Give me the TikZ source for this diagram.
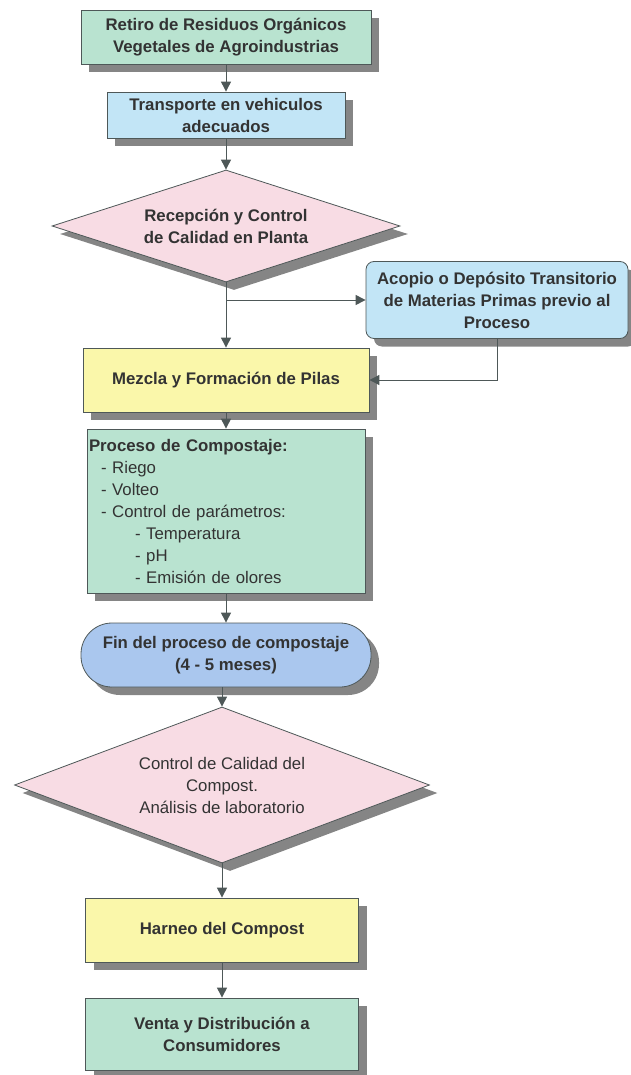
\documentclass[tikz,border=0pt]{standalone}
\usepackage{fontspec}
\setmainfont{Liberation Sans}
\usetikzlibrary{shapes.geometric,shadows,arrows.meta}

\definecolor{mintgreen}{HTML}{B9E3D0}
\definecolor{skyblue}{HTML}{C2E5F6}
\definecolor{rosepink}{HTML}{F8DCE4}
\definecolor{paleyellow}{HTML}{FAF7AA}
\definecolor{endblue}{HTML}{AAC7EE}
\definecolor{edgegray}{HTML}{4E5858}
\definecolor{textgray}{HTML}{333333}
\definecolor{shadowgray}{HTML}{858585}

\tikzset{
  base/.style={draw=edgegray, line width=0.8pt, text=textgray,
    font=\bfseries\fontsize{16.8}{22}\selectfont, align=center,
    drop shadow={shadow xshift=8pt, shadow yshift=-8pt, fill=shadowgray, opacity=1}},
  procbox/.style={base, rectangle, inner sep=2pt},
  decision/.style={base, diamond, aspect=3, inner sep=0pt},
  storebox/.style={base, rectangle, rounded corners=8pt},
  endbox/.style={base, rectangle, rounded corners=31pt},
  arr/.style={draw=edgegray, line width=1pt, -{Triangle[width=10pt,length=10pt]}},
}

\begin{document}
\begin{tikzpicture}[x=1pt,y=-1pt]
  \useasboundingbox (0,0) rectangle (631,1075);

  % main column
  \node[procbox, fill=mintgreen, minimum width=290pt, minimum height=54pt] (retiro) at (226,37)
    {Retiro de Residuos Orgánicos\\Vegetales de Agroindustrias};
  \node[procbox, fill=skyblue, minimum width=238pt, minimum height=46pt] (transporte) at (226,115)
    {Transporte en vehiculos\\adecuados};
  \node[decision, fill=rosepink, minimum width=348pt, minimum height=112pt] (recepcion) at (226,226)
    {Recepción y Control\\de Calidad en Planta};
  \node[storebox, fill=skyblue, minimum width=262pt, minimum height=77pt] (acopio) at (497,300)
    {Acopio o Depósito Transitorio\\de Materias Primas previo al\\Proceso};
  \node[procbox, fill=paleyellow, minimum width=286pt, minimum height=64pt] (mezcla) at (226,380)
    {Mezcla y Formación de Pilas};
  \node[procbox, fill=mintgreen, minimum width=278pt, minimum height=164pt,
        align=left, text width=274pt] (compostaje) at (226,511)
    {Proceso de Compostaje:\\
     \mdseries\hspace*{12pt}- Riego\\
     \mdseries\hspace*{12pt}- Volteo\\
     \mdseries\hspace*{12pt}- Control de parámetros:\\
     \mdseries\hspace*{46pt}- Temperatura\\
     \mdseries\hspace*{46pt}- pH\\
     \mdseries\hspace*{46pt}- Emisión de olores};
  \node[endbox, fill=endblue, minimum width=290pt, minimum height=64pt] (fin) at (226,655)
    {Fin del proceso de compostaje\\(4 - 5 meses)};
  \node[decision, fill=rosepink, minimum width=415pt, minimum height=156pt,
        font=\fontsize{16.8}{22}\selectfont] (calidad) at (222,785)
    {Control de Calidad del\\Compost.\\Análisis de laboratorio};
  \node[procbox, fill=paleyellow, minimum width=273pt, minimum height=64pt] (harneo) at (222,930)
    {Harneo del Compost};
  \node[procbox, fill=mintgreen, minimum width=273pt, minimum height=72pt] (venta) at (222,1034)
    {Venta y Distribución a\\Consumidores};

  \coordinate (split) at (recepcion.south |- acopio.west);

  % connectors
  \draw[arr] (retiro) -- (transporte);
  \draw[arr] (transporte) -- (recepcion);
  \draw[arr] (recepcion.south) -- (mezcla.north);
  \draw[arr] (split) -- (acopio.west);
  \draw[arr] (acopio.south) |- (mezcla.east);
  \draw[arr] (mezcla) -- (compostaje);
  \draw[arr] (compostaje) -- (fin);
  \draw[arr] (fin.south -| calidad.north) -- (calidad.north);
  \draw[arr] (calidad) -- (harneo);
  \draw[arr] (harneo) -- (venta);
\end{tikzpicture}
\end{document}
